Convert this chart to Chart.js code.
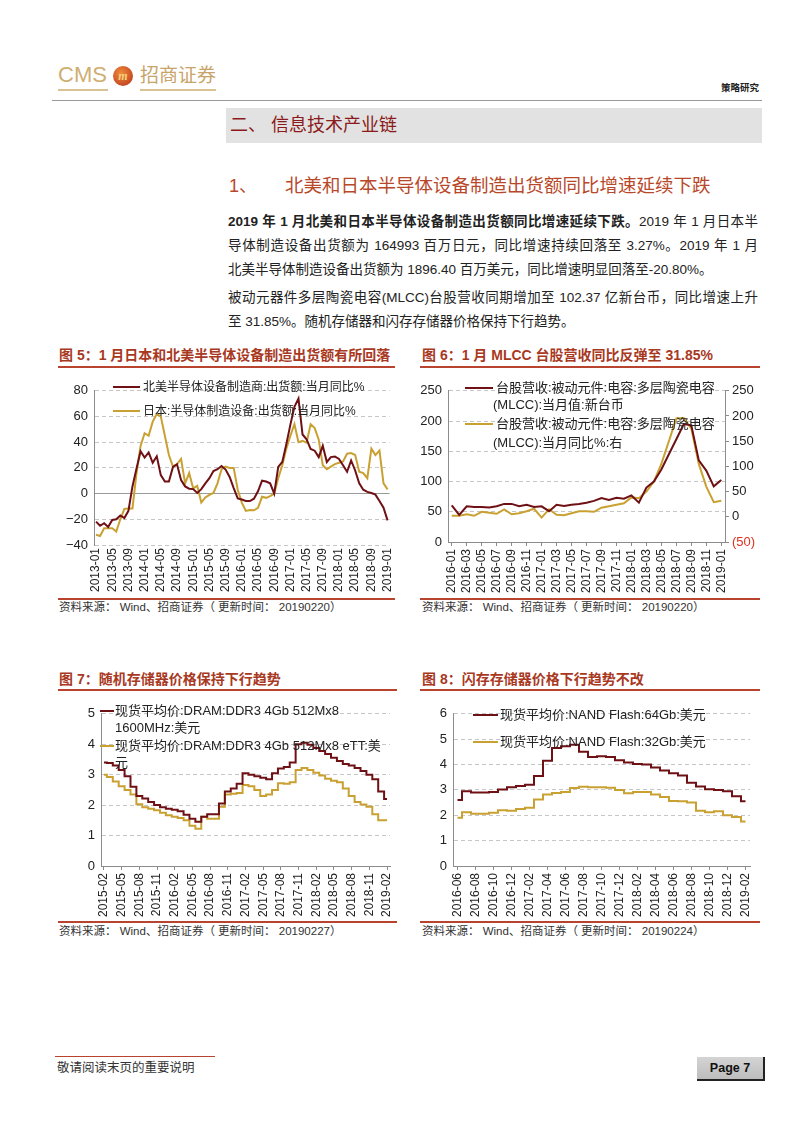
<!DOCTYPE html>
<html>
<head>
<meta charset="utf-8">
<script src="https://cdn.jsdelivr.net/npm/chart.js@4.4.1/dist/chart.umd.min.js"></script>
<style>
  body { margin: 0; width: 802px; height: 1133px; position: relative; overflow: hidden; background: #fff;
         font-family: "Liberation Sans", "Noto Sans CJK SC", sans-serif; color: #222; }
  .a { position: absolute; white-space: nowrap; }
  .box { position: absolute; }
  .ttl { position: absolute; white-space: nowrap; font-weight: bold; font-size: 14px; color: #A8391F; line-height: 18px; }
  .rule { position: absolute; height: 2px; background: #B8432F; }
  .src { position: absolute; white-space: pre; font-size: 11.5px; color: #333; line-height: 14px; }
  .lgl { position: absolute; height: 2px; }
  .lgt { position: absolute; white-space: nowrap; font-size: 13px; line-height: 16px; color: #222; }
  .p { position: absolute; left: 228px; width: 530px; font-size: 13.5px; line-height: 18px; white-space: nowrap; color: #222; }
  .j { text-align: justify; text-align-last: justify; }
  .wrap { position: absolute; }
</style>
</head>
<body>

<!-- header -->
<div class="a" style="left:58px;top:61px;font-size:22px;color:#CFAE72;line-height:28px">CMS</div>
<div class="box" style="left:113px;top:66px;width:20px;height:20px;border-radius:50%;background:radial-gradient(circle at 40% 35%,#F08A3A,#B5311B)"></div>
<div class="a" style="left:115px;top:67px;width:16px;text-align:center;font:italic bold 12px 'Liberation Serif';color:#F6D37A;line-height:18px">m</div>
<div class="a" style="left:140px;top:63px;font-size:19px;color:#C9A46A;line-height:26px">招商证券</div>
<div class="box" style="left:58px;top:89px;width:50px;height:2px;background:#D9C393"></div>
<div class="box" style="left:140px;top:89px;width:76px;height:2px;background:#D9C393"></div>
<div class="a" style="left:721px;top:81px;font-size:9.5px;font-weight:bold;color:#222;line-height:14px">策略研究</div>
<div class="box" style="left:52px;top:100px;width:710px;height:1px;background:#9a9a9a"></div>

<div class="box" style="left:226px;top:108px;width:536px;height:35px;background:#E2E2E2"></div>
<div class="a" style="left:230px;top:112px;font-size:18px;color:#8B1A1A;line-height:26px">二、 信息技术产业链</div>
<div class="a" style="left:229px;top:174px;font-size:18px;color:#B8482A;line-height:24px">1、</div>
<div class="a" style="left:285px;top:174px;font-size:18.5px;color:#B8482A;line-height:24px">北美和日本半导体设备制造出货额同比增速延续下跌</div>

<div class="p j" style="top:213px"><b>2019 年 1 月北美和日本半导体设备制造出货额同比增速延续下跌。</b>2019 年 1 月日本半</div>
<div class="p j" style="top:237px">导体制造设备出货额为 164993 百万日元，同比增速持续回落至 3.27%。2019 年 1 月</div>
<div class="p" style="top:261px">北美半导体制造设备出货额为 1896.40 百万美元，同比增速明显回落至-20.80%。</div>
<div class="p j" style="top:289px">被动元器件多层陶瓷电容(MLCC)台股营收同期增加至 102.37 亿新台币，同比增速上升</div>
<div class="p" style="top:313px">至 31.85%。随机存储器和闪存存储器价格保持下行趋势。</div>

<!-- chart titles and rules -->
<div class="ttl" style="left:59px;top:346px">图 5：1 月日本和北美半导体设备制造出货额有所回落</div>
<div class="ttl" style="left:422px;top:346px">图 6：1 月 MLCC 台股营收同比反弹至 31.85%</div>
<div class="rule" style="left:58px;top:366px;width:337px"></div>
<div class="rule" style="left:420px;top:366px;width:340px"></div>
<div class="rule" style="left:58px;top:598px;width:337px"></div>
<div class="rule" style="left:420px;top:598px;width:340px"></div>
<div class="src" style="left:59px;top:600px">资料来源： Wind、招商证券（ 更新时间： 20190220）</div>
<div class="src" style="left:422px;top:600px">资料来源： Wind、招商证券（ 更新时间： 20190220）</div>

<div class="ttl" style="left:59px;top:670px">图 7：随机存储器价格保持下行趋势</div>
<div class="ttl" style="left:422px;top:670px">图 8：闪存存储器价格下行趋势不改</div>
<div class="rule" style="left:58px;top:689px;width:339px"></div>
<div class="rule" style="left:420px;top:689px;width:340px"></div>
<div class="rule" style="left:58px;top:921px;width:339px"></div>
<div class="rule" style="left:420px;top:921px;width:340px"></div>
<div class="src" style="left:59px;top:924px">资料来源： Wind、招商证券（ 更新时间： 20190227）</div>
<div class="src" style="left:422px;top:924px">资料来源： Wind、招商证券（ 更新时间： 20190224）</div>

<!-- charts -->
<div class="wrap" style="left:50px;top:377px"><canvas id="c5" width="355" height="222"></canvas></div>
<div class="wrap" style="left:405px;top:377px"><canvas id="c6" width="365" height="222"></canvas></div>
<div class="wrap" style="left:50px;top:700px"><canvas id="c7" width="355" height="222"></canvas></div>
<div class="wrap" style="left:405px;top:700px"><canvas id="c8" width="365" height="222"></canvas></div>

<!-- legends -->
<div class="lgl" style="left:113px;top:386px;width:27px;background:#6E1014"></div>
<div class="lgt" style="left:143px;top:379px;font-size:12px">北美半导体设备制造商:出货额:当月同比%</div>
<div class="lgl" style="left:113px;top:410px;width:27px;background:#C9A132"></div>
<div class="lgt" style="left:143px;top:403px;font-size:12px">日本:半导体制造设备:出货额:当月同比%</div>

<div class="lgl" style="left:465px;top:387px;width:28px;background:#6E1014"></div>
<div class="lgt" style="left:496px;top:380px">台股营收:被动元件:电容:多层陶瓷电容</div>
<div class="lgt" style="left:493px;top:397px">(MLCC):当月值:新台币</div>
<div class="lgl" style="left:465px;top:423px;width:28px;background:#C9A132"></div>
<div class="lgt" style="left:496px;top:416px">台股营收:被动元件:电容:多层陶瓷电容</div>
<div class="lgt" style="left:493px;top:435px">(MLCC):当月同比%:右</div>

<div class="lgl" style="left:100px;top:710px;width:14px;background:#6E1014"></div>
<div class="lgt" style="left:115px;top:703px">现货平均价:DRAM:DDR3 4Gb 512Mx8</div>
<div class="lgt" style="left:115px;top:720px">1600MHz:美元</div>
<div class="lgl" style="left:100px;top:745px;width:14px;background:#C9A132"></div>
<div class="lgt" style="left:115px;top:738px">现货平均价:DRAM:DDR3 4Gb 512Mx8 eTT:美</div>
<div class="lgt" style="left:115px;top:755px">元</div>

<div class="lgl" style="left:473px;top:714px;width:25px;background:#6E1014"></div>
<div class="lgt" style="left:500px;top:707px">现货平均价:NAND Flash:64Gb:美元</div>
<div class="lgl" style="left:473px;top:741px;width:25px;background:#C9A132"></div>
<div class="lgt" style="left:500px;top:734px">现货平均价:NAND Flash:32Gb:美元</div>

<!-- footer -->
<div class="box" style="left:55px;top:1056px;width:160px;height:1px;background:#B8432F"></div>
<div class="a" style="left:57px;top:1060px;font-size:12.5px;color:#333;line-height:16px">敬请阅读末页的重要说明</div>
<div class="box" style="left:697px;top:1057px;width:66px;height:22px;background:linear-gradient(#d4d4d4,#bdbdbd);border-right:2px solid #222;border-bottom:2px solid #222"></div>
<div class="a" style="left:697px;top:1059px;width:66px;text-align:center;font-size:12.5px;font-weight:bold;color:#111;line-height:18px">Page 7</div>

<script>
// Fig.5 semiconductor equipment shipments, YoY %, 2013-01 .. 2019-01
const naYoy = [-21.8, -25, -23, -26, -20.5, -20, -17, -19, -13.4, 5.6, 19.5, 33,
  28, 32, 24, 29, 14.4, 9.4, 9.4, 20.8, 22.8, 10.6, 5.6, 3.8,
  3.5, 0.5, 3.5, 8, 12, 17.5, 19, 21.5, 18.7, 13, 4.3, -3.8,
  -4.6, -5.8, -5.8, -4, 1.8, 10, 9.4, 8, 0, 20.8, 24.6, 38.5,
  53.7, 67.6, 74, 46, 42.3, 34.7, 33.4, 28.4, 37.2, 24.6, 28.4, 28.9,
  27, 22, 17, 25.8, 18, 8, 3, 1.3, 0.5, -0.8, -5.8, -10.9,
  -20.8];
const jpYoy = [-32, -33, -27, -27, -27, -29.5, -20, -12, -11.5, -11.5, 16, 37,
  47, 45, 56, 62, 60, 45, 30, 21, 23, 27, 8, 16,
  4, 6, -7, -3, -1, 0.5, 8, 19, 21, 20, 20, 3,
  -7, -13.5, -12.7, -13, -11, -2.5, -3.3, -2, 0, 12, 22, 35,
  45, 54, 40, 41, 39.7, 54, 51, 42, 22, 19, 21, 23,
  24, 25, 31, 31.5, 30, 17, 16, 12, 35, 30, 33.5, 8,
  3.27];

// Fig.6 MLCC revenue (亿新台币) and YoY %, 2016-01 .. 2019-01
const mlccRev = [60.5, 44.7, 59, 58, 58, 57, 59, 63, 63, 59, 61.5, 58,
  59, 51, 61.5, 59.5, 61.5, 63, 65, 68, 72.6, 69.5, 73, 71.5,
  77, 65, 90, 100, 120, 145, 170, 195, 193, 135, 118, 92,
  102.37];
const mlccYoy = [2, 2, 5, 2, 10, 8, 6, 14.5, 5, 7, 11, 16,
  -1.5, 15, 4, 3, 7, 11, 11, 10, 18, 21, 24, 27,
  38.5, 37, 50, 70, 105, 150, 195, 196, 175, 105, 60, 29,
  31.85];

// Fig.7 DRAM spot price (USD), 2015-02 .. 2019-02
const dram1600 = [3.4, 3.38, 3.3, 3.15, 2.95, 2.6, 2.3, 2.22, 2.1, 2.0, 1.93, 1.88,
  1.85, 1.8, 1.68, 1.55, 1.45, 1.62, 1.7, 1.7, 2.05, 2.45, 2.55, 2.7,
  3.05, 3.0, 2.95, 2.9, 2.85, 3.05, 3.2, 3.25, 3.4, 4.0, 4.05, 3.98,
  3.88, 3.78, 3.68, 3.56, 3.45, 3.35, 3.3, 3.22, 3.12, 3.0, 2.85, 2.45,
  2.2];
const dramEtt = [3.0, 2.92, 2.78, 2.62, 2.5, 2.35, 2.03, 1.93, 1.88, 1.83, 1.75, 1.67,
  1.62, 1.58, 1.5, 1.32, 1.22, 1.62, 1.55, 1.55, 1.95, 2.35, 2.37, 2.4,
  2.66, 2.62, 2.5, 2.3, 2.35, 2.5, 2.72, 2.7, 2.75, 3.15, 3.22, 3.15,
  3.06, 2.97, 2.87, 2.8, 2.75, 2.55, 2.3, 2.1, 2.02, 1.95, 1.7, 1.5,
  1.5];

// Fig.8 NAND Flash spot price (USD), 2016-06 .. 2019-02
const nand64 = [2.6, 2.95, 2.9, 2.9, 2.92, 3.02, 3.1, 3.15, 3.2, 3.55, 4.15, 4.65,
  4.72, 4.78, 4.5, 4.3, 4.33, 4.3, 4.17, 4.08, 4.02, 4.0, 3.88, 3.76,
  3.66, 3.57, 3.28, 3.13, 3.03, 3.0, 2.95, 2.75, 2.55];
const nand32 = [1.9, 2.12, 2.06, 2.06, 2.1, 2.2, 2.18, 2.25, 2.3, 2.62, 2.82, 2.88,
  2.92, 3.07, 3.12, 3.1, 3.1, 3.08, 3.0, 2.87, 2.92, 2.92, 2.82, 2.72,
  2.56, 2.55, 2.5, 2.18, 2.12, 2.16, 2.0, 1.93, 1.75];

const MAROON = '#6E1014';
const GOLD = '#C9A132';
const AXIS = '#8c8c8c';
const GRID = '#c6c6c6';

function monthLabels(year, month, n) {
  const out = [];
  for (let i = 0; i < n; i++) {
    const k = month - 1 + i;
    out.push((year + Math.floor(k / 12)) + '-' + String(k % 12 + 1).padStart(2, '0'));
  }
  return out;
}

Chart.defaults.font.family = "'Liberation Sans', 'Noto Sans CJK SC', sans-serif";
Chart.defaults.color = '#222';
Chart.defaults.animation = false;

function line(data, color, extra) {
  return Object.assign({ data, borderColor: color, borderWidth: 2, pointRadius: 0, tension: 0, fill: false }, extra || {});
}

function xScale(every, height, showBorder) {
  return {
    offset: true,
    border: { display: showBorder, color: AXIS },
    grid: {
      drawOnChartArea: false, drawTicks: showBorder, tickLength: 4,
      color: c => (c.index % every === 0 ? AXIS : 'rgba(0,0,0,0)'),
    },
    ticks: {
      autoSkip: false, maxRotation: 90, minRotation: 90, padding: 3, font: { size: 12 },
      callback(v, i) { return i % every === 0 ? this.getLabelForValue(v) : ''; },
    },
    afterFit: s => { s.height = height; },
  };
}

function yScale(min, max, step, width, solidZero) {
  return {
    min, max,
    ticks: { stepSize: step, padding: 6, font: { size: 13 }, callback: v => String(v).replace('-', '\u2212') },
    border: {
      display: true, color: AXIS,
      dash: c => (solidZero && c.tick && c.tick.value === 0 ? [] : [4, 3]),
    },
    grid: { color: c => (solidZero && c.tick && c.tick.value === 0 ? '#999' : GRID), drawTicks: false },
    afterFit: s => { s.width = width; },
  };
}

const baseOpts = (padding) => ({
  responsive: false,
  layout: { padding },
  plugins: { legend: { display: false }, tooltip: { enabled: false } },
});

// Fig.5
new Chart(document.getElementById('c5'), {
  type: 'line',
  data: {
    labels: monthLabels(2013, 1, naYoy.length),
    datasets: [line(naYoy, MAROON), line(jpYoy, GOLD)],
  },
  options: Object.assign(baseOpts({ top: 10, right: 5 }), {
    scales: { x: xScale(4, 54, false), y: yScale(-40, 80, 20, 44, true) },
  }),
});

// Fig.6
new Chart(document.getElementById('c6'), {
  type: 'line',
  data: {
    labels: monthLabels(2016, 1, mlccRev.length),
    datasets: [line(mlccRev, MAROON, { yAxisID: 'y' }), line(mlccYoy, GOLD, { yAxisID: 'y1' })],
  },
  options: Object.assign(baseOpts({ top: 6, right: 0 }), {
    scales: {
      x: xScale(2, 57, true),
      y: yScale(0, 250, 50, 43, false),
      y1: {
        position: 'right', min: -50, max: 250,
        border: { display: true, color: AXIS },
        grid: { drawOnChartArea: false, drawTicks: true, tickLength: 4, color: AXIS },
        ticks: {
          stepSize: 50, padding: 3, font: { size: 13 },
          color: c => (c.tick.value < 0 ? '#E0301E' : '#222'),
          callback: v => (v < 0 ? '(' + (-v) + ')' : String(v)),
        },
        afterFit: s => { s.width = 45; },
      },
    },
  }),
});

// Fig.7
new Chart(document.getElementById('c7'), {
  type: 'line',
  data: {
    labels: monthLabels(2015, 2, dram1600.length),
    datasets: [line(dram1600, MAROON, { stepped: 'middle' }), line(dramEtt, GOLD, { stepped: 'middle' })],
  },
  options: Object.assign(baseOpts({ top: 8, right: 15 }), {
    scales: { x: xScale(3, 56, true), y: yScale(0, 5, 1, 51, false) },
  }),
});

// Fig.8
new Chart(document.getElementById('c8'), {
  type: 'line',
  data: {
    labels: monthLabels(2016, 6, nand64.length),
    datasets: [line(nand64, MAROON, { stepped: 'middle' }), line(nand32, GOLD, { stepped: 'middle' })],
  },
  options: Object.assign(baseOpts({ top: 8, right: 20 }), {
    scales: { x: xScale(2, 56, true), y: yScale(0, 6, 1, 48, false) },
  }),
});
</script>
</body>
</html>
